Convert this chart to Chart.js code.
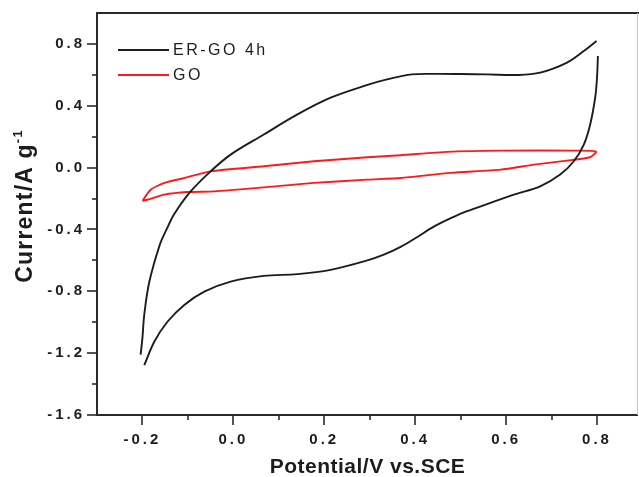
<!DOCTYPE html>
<html>
<head>
<meta charset="utf-8">
<script src="https://cdn.jsdelivr.net/npm/chart.js@4.4.1/dist/chart.umd.min.js"></script>
<style>
  html, body { margin: 0; padding: 0; background: #fff; }
  #wrap { width: 639px; height: 477px; }
</style>
</head>
<body>
<div id="wrap"><canvas id="cv" width="639" height="477"></canvas></div>
<script>
// Series names shown in the legend
const seriesNames = ['ER-GO 4h', 'GO'];

// ER-GO 4h, anodic sweep (-0.2 V to 0.8 V)
const ergoFwdX = [-0.204, -0.200, -0.196, -0.185, -0.162, -0.147, -0.130, -0.094, -0.050, -0.006, 0.067, 0.141, 0.214, 0.295, 0.338, 0.393, 0.450, 0.500, 0.558, 0.624, 0.675, 0.734, 0.771, 0.799];
const ergoFwdY = [-1.21, -1.10, -0.95, -0.74, -0.50, -0.40, -0.30, -0.154, -0.024, 0.084, 0.214, 0.344, 0.452, 0.535, 0.571, 0.603, 0.606, 0.605, 0.603, 0.599, 0.614, 0.679, 0.754, 0.819];

// ER-GO 4h, cathodic sweep (0.8 V back to -0.2 V)
const ergoRevX = [0.802, 0.800, 0.796, 0.785, 0.771, 0.749, 0.719, 0.675, 0.617, 0.558, 0.514, 0.485, 0.441, 0.404, 0.368, 0.331, 0.295, 0.214, 0.141, 0.067, -0.006, -0.064, -0.108, -0.145, -0.174, -0.196];
const ergoRevY = [0.722, 0.580, 0.452, 0.279, 0.149, 0.041, -0.045, -0.121, -0.175, -0.236, -0.282, -0.318, -0.382, -0.450, -0.513, -0.563, -0.600, -0.661, -0.689, -0.700, -0.737, -0.802, -0.888, -0.997, -1.126, -1.278];

// GO, closed voltammogram loop
const goX = [-0.200, -0.182, -0.152, -0.108, -0.050, 0.067, 0.177, 0.295, 0.368, 0.470, 0.588, 0.763, 0.798, 0.785, 0.734, 0.661, 0.588, 0.478, 0.368, 0.295, 0.177, 0.067, -0.042, -0.101, -0.152, -0.189, -0.200];
const goY = [-0.214, -0.143, -0.099, -0.067, -0.024, 0.009, 0.041, 0.067, 0.080, 0.102, 0.110, 0.110, 0.104, 0.067, 0.045, 0.019, -0.013, -0.034, -0.067, -0.078, -0.099, -0.128, -0.154, -0.158, -0.175, -0.208, -0.214];

// Axis ticks
const xMajorTicks = [-0.2, 0.0, 0.2, 0.4, 0.6, 0.8];
const xMinorTicks = [-0.1, 0.1, 0.3, 0.5, 0.7];
const yMajorTicks = [-1.6, -1.2, -0.8, -0.4, 0.0, 0.4, 0.8];
const yMinorTicks = [-1.4, -1.0, -0.6, -0.2, 0.2, 0.6];

// Axis titles
const xTitle = 'Potential/V vs.SCE';
const yTitle = 'Current/A g';
const yTitleSup = '-1';

const colors = ['#1c1c1c', '#ff1a1a'];
const FONT = '"Liberation Sans", Arial, sans-serif';

const toPoints = (xs, ys) => xs.map((x, i) => ({ x: x, y: ys[i] }));

const lineStyle = (color, tension) => ({
  showLine: true,
  borderColor: color,
  backgroundColor: color,
  borderWidth: 1.9,
  pointRadius: 0,
  pointHoverRadius: 0,
  tension: tension,
  fill: false
});

const decorations = {
  id: 'decorations',
  beforeDraw(chart) {
    chart.ctx.letterSpacing = '3px';
  },
  afterDraw(chart) {
    const ctx = chart.ctx;
    const xs = chart.scales.x, ys = chart.scales.y;
    const a = chart.chartArea;
    ctx.save();
    ctx.letterSpacing = '0px';

    // frame: top and right edges
    ctx.strokeStyle = '#2a2a2a';
    ctx.lineWidth = 2;
    ctx.beginPath();
    ctx.moveTo(a.left, a.top);
    ctx.lineTo(chart.width, a.top);
    ctx.stroke();
    ctx.strokeStyle = '#c8c8c8';
    ctx.lineWidth = 1;
    ctx.beginPath();
    ctx.moveTo(a.right + 0.5, a.top);
    ctx.lineTo(a.right + 0.5, a.bottom);
    ctx.stroke();

    // outward tick marks
    ctx.strokeStyle = '#2a2a2a';
    ctx.lineWidth = 1.6;
    const xTick = (v, len) => {
      const p = Math.round(xs.getPixelForValue(v));
      ctx.beginPath(); ctx.moveTo(p, a.bottom); ctx.lineTo(p, a.bottom + len); ctx.stroke();
    };
    const yTick = (v, len) => {
      const p = Math.round(ys.getPixelForValue(v));
      ctx.beginPath(); ctx.moveTo(a.left, p); ctx.lineTo(a.left - len, p); ctx.stroke();
    };
    xMajorTicks.forEach(v => xTick(v, 10));
    xMinorTicks.forEach(v => xTick(v, 5));
    yMajorTicks.forEach(v => yTick(v, 10));
    yMinorTicks.forEach(v => yTick(v, 5));

    // x axis title
    ctx.fillStyle = '#1c1c1c';
    ctx.font = 'bold 21px ' + FONT;
    ctx.letterSpacing = '0.5px';
    ctx.textAlign = 'center';
    ctx.textBaseline = 'alphabetic';
    ctx.fillText(xTitle, (a.left + a.right) / 2 + 0.5, 473);

    // y axis title with superscript
    ctx.save();
    ctx.translate(32, 206);
    ctx.rotate(-Math.PI / 2);
    ctx.letterSpacing = '1.2px';
    ctx.font = 'bold 23px ' + FONT;
    const wMain = ctx.measureText(yTitle).width;
    ctx.font = 'bold 13px ' + FONT;
    const wSup = ctx.measureText(yTitleSup).width;
    const start = -(wMain + wSup) / 2;
    ctx.textAlign = 'left';
    ctx.font = 'bold 23px ' + FONT;
    ctx.fillText(yTitle, start, 0);
    ctx.font = 'bold 13px ' + FONT;
    ctx.fillText(yTitleSup, start + wMain, -10);
    ctx.restore();

    // legend
    const rows = [50, 75];
    ctx.lineWidth = 2;
    ctx.font = '16px ' + FONT;
    ctx.letterSpacing = '2.5px';
    ctx.textAlign = 'left';
    ctx.textBaseline = 'middle';
    seriesNames.forEach((name, i) => {
      ctx.strokeStyle = colors[i];
      ctx.beginPath();
      ctx.moveTo(118, rows[i]);
      ctx.lineTo(169, rows[i]);
      ctx.stroke();
      ctx.fillStyle = '#1c1c1c';
      ctx.fillText(name, 173, rows[i] + 1);
    });

    ctx.restore();
    ctx.letterSpacing = '0px';
  }
};

new Chart(document.getElementById('cv'), {
  type: 'scatter',
  data: {
    datasets: [
      Object.assign({ label: seriesNames[0], data: toPoints(ergoFwdX, ergoFwdY) }, lineStyle(colors[0], 0.35)),
      Object.assign({ label: seriesNames[0], data: toPoints(ergoRevX, ergoRevY) }, lineStyle(colors[0], 0.35)),
      Object.assign({ label: seriesNames[1], data: toPoints(goX, goY) }, lineStyle(colors[1], 0.2))
    ]
  },
  options: {
    responsive: false,
    animation: false,
    devicePixelRatio: 1,
    layout: { padding: { top: 13, right: 2, left: 0, bottom: 0 } },
    plugins: {
      legend: { display: false },
      tooltip: { enabled: false },
      title: { display: false }
    },
    scales: {
      x: {
        type: 'linear',
        position: 'bottom',
        min: -0.3,
        max: 0.888,
        grid: { display: false, drawTicks: false },
        border: { display: true, color: '#2a2a2a', width: 2 },
        ticks: {
          color: '#1c1c1c',
          font: { family: FONT, size: 15, weight: 'bold' },
          padding: 16,
          maxRotation: 0,
          autoSkip: false,
          callback: v => v.toFixed(1)
        },
        afterBuildTicks: s => { s.ticks = xMajorTicks.map(v => ({ value: v })); },
        afterFit: s => { s.height = 62; s.paddingLeft = 0; s.paddingRight = 0; }
      },
      y: {
        type: 'linear',
        min: -1.6,
        max: 1.0,
        grid: { display: false, drawTicks: false },
        border: { display: true, color: '#2a2a2a', width: 2 },
        ticks: {
          color: '#1c1c1c',
          font: { family: FONT, size: 15, weight: 'bold' },
          padding: 12,
          autoSkip: false,
          callback: v => v.toFixed(1)
        },
        afterBuildTicks: s => { s.ticks = yMajorTicks.map(v => ({ value: v })); },
        afterFit: s => { s.width = 97; s.paddingTop = 0; s.paddingBottom = 0; }
      }
    }
  },
  plugins: [decorations]
});
</script>
</body>
</html>
